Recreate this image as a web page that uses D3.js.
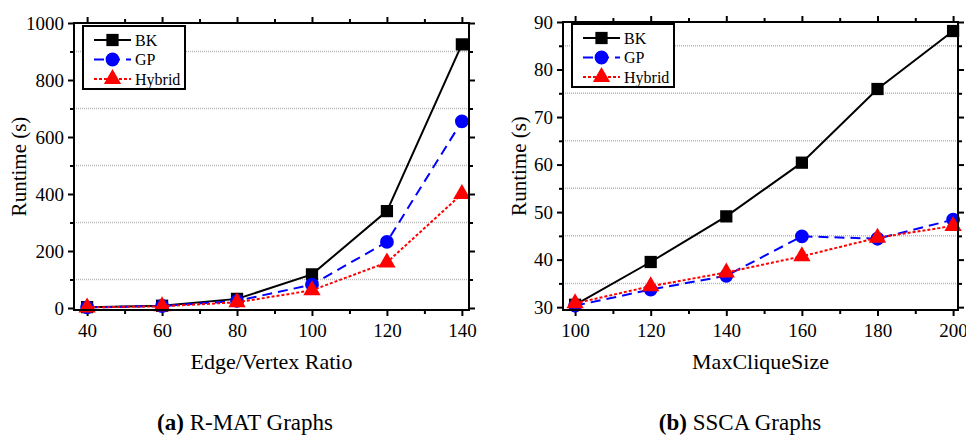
<!DOCTYPE html>
<html>
<head>
<meta charset="utf-8">
<script src="https://cdn.jsdelivr.net/npm/d3@7"></script>
<style>
  body { margin: 0; background: #fff; }
  text { font-family: "Liberation Serif", "Times New Roman", serif; }
</style>
</head>
<body>
<div id="container"></div>
<script>
// data
let seriesNames = ['BK', 'GP', 'Hybrid'];

let ratioX = [40, 60, 80, 100, 120, 140];
let rmatBK = [3, 8, 32, 118, 340, 925];
let rmatGP = [2, 7, 25, 82, 232, 655];
let rmatHybrid = [2, 6, 20, 62, 160, 400];

let cliqueX = [100, 120, 140, 160, 180, 200];
let sscaBK = [30.5, 39.5, 49.1, 60.4, 75.9, 88.1];
let sscaGP = [30.3, 33.7, 36.6, 44.9, 44.4, 48.4];
let sscaHybrid = [30.8, 34.4, 37.3, 40.7, 44.6, 47.1];

let rmatXTicks = [40, 60, 80, 100, 120, 140];
let rmatYTicks = [0, 200, 400, 600, 800, 1000];
let sscaXTicks = [100, 120, 140, 160, 180, 200];
let sscaYTicks = [30, 40, 50, 60, 70, 80, 90];

let width = 966;
let height = 437;

let svg = d3.create('svg').attr('width', width).attr('height', height);

let styles = [
  { color: '#000', dash: null, shape: d3.symbolSquare, size: 150 },
  { color: '#0000ff', dash: '10,6', shape: d3.symbolCircle, size: 150 },
  { color: '#ff0000', dash: '3,2', shape: d3.symbolTriangle, size: 130 }
];

function panel(opt) {
  let g = svg.append('g');
  let x = d3.scaleLinear().domain(opt.xDomain).range([opt.left, opt.right]);
  let y = d3.scaleLinear().domain(opt.yDomain).range([opt.bottom, opt.top]);

  // dotted grid at the minor ticks
  g.selectAll('.grid')
    .data(opt.yGrid)
    .enter()
    .append('line')
    .attr('x1', opt.left)
    .attr('x2', opt.right)
    .attr('y1', d => y(d))
    .attr('y2', d => y(d))
    .attr('stroke', '#b8b8b8')
    .attr('stroke-width', 1.5)
    .attr('stroke-dasharray', '1,1');

  // axes: major + minor ticks on all four sides
  let addAxis = (axis, transform, labels) => {
    let a = g.append('g').attr('transform', transform).call(axis);
    a.select('.domain').remove();
    a.selectAll('line').attr('stroke', '#000').attr('stroke-width', 2);
    if (!labels) a.selectAll('text').remove();
    else a.selectAll('text').attr('font-size', 19).attr('fill', '#000')
      .attr('font-family', '"Liberation Serif", serif');
    return a;
  };
  addAxis(d3.axisBottom(x).tickValues(opt.xTicks).tickSize(6).tickPadding(8).tickFormat(d3.format('d')),
    `translate(0,${opt.bottom})`, true);
  addAxis(d3.axisBottom(x).tickValues(opt.xMinor).tickSize(4), `translate(0,${opt.bottom})`, false);
  addAxis(d3.axisTop(x).tickValues(opt.xTicks).tickSize(6), `translate(0,${opt.top})`, false);
  addAxis(d3.axisTop(x).tickValues(opt.xMinor).tickSize(4), `translate(0,${opt.top})`, false);
  addAxis(d3.axisLeft(y).tickValues(opt.yTicks).tickSize(6).tickPadding(4).tickFormat(d3.format('d')),
    `translate(${opt.left},0)`, true);
  addAxis(d3.axisLeft(y).tickValues(opt.yGrid).tickSize(4), `translate(${opt.left},0)`, false);
  addAxis(d3.axisRight(y).tickValues(opt.yTicks).tickSize(6), `translate(${opt.right},0)`, false);
  addAxis(d3.axisRight(y).tickValues(opt.yGrid).tickSize(4), `translate(${opt.right},0)`, false);

  // series
  let line = d3.line().x(d => x(d[0])).y(d => y(d[1]));
  opt.series.forEach((vals, i) => {
    let st = styles[i];
    let pts = opt.xs.map((v, j) => [v, vals[j]]);
    g.append('path')
      .attr('d', line(pts))
      .attr('fill', 'none')
      .attr('stroke', st.color)
      .attr('stroke-width', 2)
      .attr('stroke-dasharray', st.dash);
    g.selectAll('.m' + i)
      .data(pts)
      .enter()
      .append('path')
      .attr('transform', d => `translate(${x(d[0])},${y(d[1])})`)
      .attr('d', d3.symbol().type(st.shape).size(st.size))
      .attr('fill', st.color);
  });

  // frame
  g.append('rect')
    .attr('x', opt.left)
    .attr('y', opt.top)
    .attr('width', opt.right - opt.left)
    .attr('height', opt.bottom - opt.top)
    .attr('fill', 'none')
    .attr('stroke', '#000')
    .attr('stroke-width', 2);

  // legend
  let lg = g.append('g');
  lg.append('rect')
    .attr('x', opt.legend[0])
    .attr('y', opt.legend[1])
    .attr('width', 102)
    .attr('height', 63)
    .attr('fill', '#fff')
    .attr('stroke', '#000')
    .attr('stroke-width', 2);
  seriesNames.forEach((name, i) => {
    let st = styles[i];
    let ly = opt.legend[1] + 14 + i * 19.5;
    let lx = opt.legend[0] + 11;
    lg.append('line')
      .attr('x1', lx).attr('x2', lx + 37)
      .attr('y1', ly).attr('y2', ly)
      .attr('stroke', st.color)
      .attr('stroke-width', 2)
      .attr('stroke-dasharray', st.dash);
    lg.append('path')
      .attr('transform', `translate(${lx + 18.5},${ly})`)
      .attr('d', d3.symbol().type(st.shape).size(st.size))
      .attr('fill', st.color);
    lg.append('text')
      .attr('x', lx + 41)
      .attr('y', ly + 5.5)
      .attr('font-size', 16)
      .text(name);
  });

  // axis titles
  g.append('text')
    .attr('x', (opt.left + opt.right) / 2)
    .attr('y', 369)
    .attr('text-anchor', 'middle')
    .attr('font-size', 22)
    .text(opt.xTitle);
  g.append('text')
    .attr('transform', `translate(${opt.yTitleX},${(opt.top + opt.bottom) / 2}) rotate(-90)`)
    .attr('text-anchor', 'middle')
    .attr('font-size', 21)
    .text('Runtime (s)');

  // caption
  let cap = g.append('text')
    .attr('x', opt.captionX)
    .attr('y', 430)
    .attr('text-anchor', 'middle')
    .attr('font-size', 23);
  cap.append('tspan').attr('font-weight', 'bold').text(opt.captionTag);
  cap.append('tspan').text(' ' + opt.caption);
}

panel({
  left: 74, right: 469, top: 23, bottom: 310,
  xDomain: [36.5, 141.9], yDomain: [-7, 1000],
  xs: ratioX, series: [rmatBK, rmatGP, rmatHybrid],
  xTicks: rmatXTicks, xMinor: [50, 70, 90, 110, 130],
  yTicks: rmatYTicks, yGrid: [100, 300, 500, 700, 900],
  legend: [83, 26], xTitle: 'Edge/Vertex Ratio', yTitleX: 26,
  captionX: 245, captionTag: '(a)', caption: 'R-MAT Graphs'
});

panel({
  left: 563, right: 958, top: 22, bottom: 310,
  xDomain: [96.8, 201.3], yDomain: [29.4, 90],
  xs: cliqueX, series: [sscaBK, sscaGP, sscaHybrid],
  xTicks: sscaXTicks, xMinor: [110, 130, 150, 170, 190],
  yTicks: sscaYTicks, yGrid: [35, 45, 55, 65, 75, 85],
  legend: [572, 24], xTitle: 'MaxCliqueSize', yTitleX: 526,
  captionX: 740, captionTag: '(b)', caption: 'SSCA Graphs'
});

d3.select('#container').append(() => svg.node());
</script>
</body>
</html>
